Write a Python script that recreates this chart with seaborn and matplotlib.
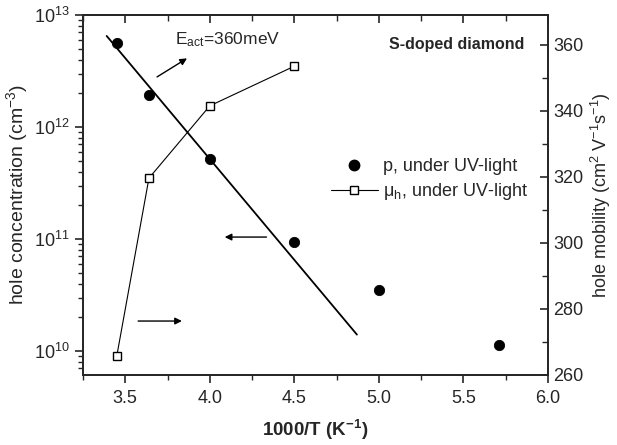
import numpy as np
import pandas as pd
import matplotlib
matplotlib.use("Agg")
import matplotlib.pyplot as plt
from matplotlib.ticker import MultipleLocator, LogLocator, NullFormatter
from matplotlib.lines import Line2D
import seaborn as sns

# ---- data ----
p_x = [3.45, 3.64, 4.00, 4.50, 5.00, 5.71]
p_conc = [5.6e12, 1.93e12, 5.2e11, 9.4e10, 3.5e10, 1.13e10]
mu_x = [3.45, 3.64, 4.00, 4.50]
mu_val = [265.8, 319.6, 341.5, 353.5]
fit_x = [3.39, 4.87]
fit_y = [6.5e12, 1.4e10]
p_label = "p, under UV-light"
mu_label = r"μ$_{\rm h}$, under UV-light"
eact_text = r"E$_{\rm act}$=360meV"
sample_text = "S-doped diamond"

sns.set_style("ticks")
plt.rcParams['font.family'] = ['Liberation Sans', 'DejaVu Sans']
plt.rcParams['mathtext.fontset'] = 'custom'
plt.rcParams['mathtext.rm'] = 'Liberation Sans'
plt.rcParams['mathtext.it'] = 'Liberation Sans:italic'
plt.rcParams['mathtext.bf'] = 'Liberation Sans:bold'
plt.rcParams['axes.linewidth'] = 1.3

fig = plt.figure(figsize=(6.17, 4.45), dpi=100)
ax = fig.add_axes([83/617, 1-375/445, (548-83)/617, (375-15)/445])
ax2 = ax.twinx()

df_p = pd.DataFrame({"x": p_x, "y": p_conc})
df_mu = pd.DataFrame({"x": mu_x, "y": mu_val})
df_fit = pd.DataFrame({"x": fit_x, "y": fit_y})

sns.lineplot(data=df_fit, x="x", y="y", ax=ax, color="black", lw=1.3, legend=False)
sns.scatterplot(data=df_p, x="x", y="y", ax=ax, color="black", s=55,
                edgecolor="black", legend=False, zorder=5)
sns.lineplot(data=df_mu, x="x", y="y", ax=ax2, color="black", lw=0.8,
             marker="s", markersize=5.2, markerfacecolor="white",
             markeredgecolor="black", markeredgewidth=1.0, legend=False)

ax.set_yscale("log")
ax.set_xlim(3.25, 6.0)
ax.set_ylim(6.1e9, 1e13)
ax2.set_ylim(260, 369)

ax.xaxis.set_major_locator(MultipleLocator(0.5))
ax.xaxis.set_minor_locator(MultipleLocator(0.25))
ax.yaxis.set_major_locator(LogLocator(base=10, numticks=10))
ax.yaxis.set_minor_locator(LogLocator(base=10, subs=np.arange(2, 10), numticks=100))
ax.yaxis.set_minor_formatter(NullFormatter())
ax2.yaxis.set_major_locator(MultipleLocator(20))
ax2.yaxis.set_minor_locator(MultipleLocator(10))

ax.tick_params(axis='both', which='major', direction='out', length=6, width=1.2, labelsize=13)
ax.tick_params(axis='both', which='minor', direction='out', length=3.5, width=1.0)
ax.tick_params(axis='x', pad=5)
ax2.tick_params(axis='y', which='major', direction='in', length=6, width=1.2, labelsize=13, pad=4)
ax2.tick_params(axis='y', which='minor', direction='in', length=4, width=1.0)

top = ax.secondary_xaxis('top')
top.xaxis.set_major_locator(MultipleLocator(0.5))
top.xaxis.set_minor_locator(MultipleLocator(0.25))
top.tick_params(which='major', direction='in', length=6, width=1.2, labeltop=False)
top.tick_params(which='minor', direction='in', length=4, width=1.0)
top.spines['top'].set_linewidth(1.3)

for a in (ax, ax2):
    for s in a.spines.values():
        s.set_visible(True)
        s.set_linewidth(1.3)

ax.set_xlabel(r"1000/T (K$^{\mathbf{-1}}$)", fontsize=13.5, fontweight='bold', labelpad=8)
ax.set_ylabel(r"hole concentration (cm$^{-3}$)", fontsize=14, labelpad=3)
ax2.set_ylabel(r"hole mobility (cm$^{2}$ V$^{-1}$s$^{-1}$)", fontsize=13, labelpad=4)

arrow = dict(arrowstyle='-|>', color='black', lw=1.0, mutation_scale=10, shrinkA=0, shrinkB=0)
ax.annotate("", xy=(3.865, 4.1e12), xytext=(3.688, 2.8e12), arrowprops=arrow)
ax.annotate("", xy=(4.088, 1.04e11), xytext=(4.335, 1.04e11), arrowprops=arrow)
ax.annotate("", xy=(3.835, 1.85e10), xytext=(3.576, 1.85e10), arrowprops=arrow)

ax.text(3.794, 6.0e12, eact_text, fontsize=12.5, va='center', ha='left')
ax.text(0.95, 0.917, sample_text, transform=ax.transAxes, fontsize=11.5,
        fontweight='bold', ha='right', va='center')

handles = [
    Line2D([], [], color='black', marker='o', linestyle='none', markersize=7.5),
    Line2D([], [], color='black', lw=0.8, marker='s', markersize=5.2,
           markerfacecolor='white', markeredgecolor='black'),
]
leg = ax2.legend(handles, [p_label, mu_label], loc='center left',
                 bbox_to_anchor=((331-83)/465, (375-180)/360), frameon=False,
                 fontsize=13, handlelength=2.6, handletextpad=0.3,
                 labelspacing=0.35, borderpad=0, borderaxespad=0)

fig.savefig("out.png", dpi=100)
